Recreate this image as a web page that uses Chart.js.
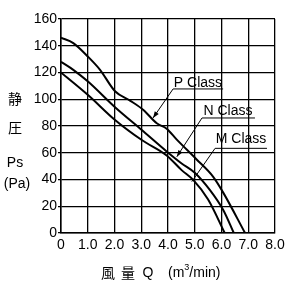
<!DOCTYPE html>
<html>
<head>
<meta charset="utf-8">
<script src="https://cdn.jsdelivr.net/npm/chart.js@4"></script>
<style>
  html, body { margin: 0; padding: 0; background: #fff; }
</style>
</head>
<body>
<canvas id="pq" width="290" height="290"></canvas>
<script>
// Fan curves: air flow Q (m3/min) vs static pressure Ps (Pa)
const classNames = ['P Class', 'N Class', 'M Class'];

const pFlow     = [0, 0.46, 1.0, 1.46, 2.02, 2.58, 3.08, 3.58, 3.95, 4.32, 5.07, 5.69, 6.07, 6.88];
const pPressure = [146, 142, 132, 122, 106, 99, 92, 82, 78, 70, 55, 42, 30, 0];

const nFlow     = [0, 0.46, 1.02, 2.02, 3.02, 3.95, 4.51, 5.0, 5.57, 6.07, 6.46];
const nPressure = [128, 122, 113, 94, 77, 61, 52, 45, 32, 17, 0];

const mFlow     = [0, 1.02, 2.02, 3.02, 3.95, 4.51, 4.95, 5.5, 6.12];
const mPressure = [120, 103, 84.5, 69.5, 58, 47, 39.5, 25, 0];

const xTicks = [0, 1, 2, 3, 4, 5, 6, 7, 8];
const yTicks = [0, 20, 40, 60, 80, 100, 120, 140, 160];

// Callout labels, in data units: text centre, underline span, leader end, arrowhead?
const callouts = [
  {text: classNames[0], tx: 5.12, ty: 112, uy: 107.7, u0: 4.19, u1: 6.06, ex: 3.44, ey: 86, arrow: true},
  {text: classNames[1], tx: 6.24, ty: 91, uy: 86, u0: 5.27, u1: 7.25, ex: 4.33, ey: 57, arrow: true},
  {text: classNames[2], tx: 6.73, ty: 70, uy: 63.3, u0: 5.76, u1: 7.7, ex: 4.89, ey: 38.4, arrow: false},
];

const fontFamily = '"Liberation Sans", Arial, sans-serif';
const cjkFamily = '"Noto Sans CJK JP", sans-serif';

const toPoints = (xs, ys) => xs.map((x, i) => ({x: x, y: ys[i]}));

// Titles and callouts drawn on top of the chart
const annotations = {
  id: 'annotations',
  afterDraw(chart) {
    const ctx = chart.ctx;
    const xs = chart.scales.x, ys = chart.scales.y;
    ctx.save();
    ctx.fillStyle = '#000';
    ctx.strokeStyle = '#000';
    ctx.textAlign = 'center';
    ctx.textBaseline = 'middle';

    // Y axis title
    ctx.font = '14px ' + cjkFamily;
    ctx.fillText('静', 15, 99);
    ctx.fillText('圧', 15, 128);
    ctx.font = '14px ' + fontFamily;
    ctx.fillText('Ps', 15, 163);
    ctx.fillText('(Pa)', 17, 184);

    // X axis title
    ctx.font = '14px ' + cjkFamily;
    ctx.fillText('風', 108, 273);
    ctx.fillText('量', 128, 273);
    ctx.font = '14px ' + fontFamily;
    ctx.fillText('Q', 148, 273);
    ctx.textAlign = 'left';
    ctx.fillText('(m', 168, 273);
    let w = ctx.measureText('(m').width;
    ctx.font = '9px ' + fontFamily;
    ctx.fillText('3', 168 + w, 268);
    let w3 = ctx.measureText('3').width;
    ctx.font = '14px ' + fontFamily;
    ctx.fillText('/min)', 168 + w + w3, 273);

    // Callouts
    ctx.textAlign = 'center';
    ctx.lineWidth = 1;
    callouts.forEach(c => {
      ctx.fillText(c.text, xs.getPixelForValue(c.tx), ys.getPixelForValue(c.ty));
      const ux0 = xs.getPixelForValue(c.u0), ux1 = xs.getPixelForValue(c.u1);
      const uy = ys.getPixelForValue(c.uy);
      const ex = xs.getPixelForValue(c.ex), ey = ys.getPixelForValue(c.ey);
      ctx.beginPath();
      ctx.moveTo(ux1, uy);
      ctx.lineTo(ux0, uy);
      ctx.lineTo(ex, ey);
      ctx.stroke();
      if (c.arrow) {
        const ang = Math.atan2(ey - uy, ex - ux0);
        const len = 7, half = 0.35;
        ctx.beginPath();
        ctx.moveTo(ex, ey);
        ctx.lineTo(ex - len * Math.cos(ang - half), ey - len * Math.sin(ang - half));
        ctx.lineTo(ex - len * Math.cos(ang + half), ey - len * Math.sin(ang + half));
        ctx.closePath();
        ctx.fill();
      }
    });
    ctx.restore();
  }
};

const curve = (label, xs, ys) => ({
  label: label,
  data: toPoints(xs, ys),
  borderColor: '#000',
  borderWidth: 2,
  pointRadius: 0,
  fill: false,
  cubicInterpolationMode: 'monotone'
});

new Chart(document.getElementById('pq'), {
  type: 'line',
  data: {
    datasets: [
      curve(classNames[0], pFlow, pPressure),
      curve(classNames[1], nFlow, nPressure),
      curve(classNames[2], mFlow, mPressure)
    ]
  },
  options: {
    responsive: false,
    animation: false,
    layout: {padding: {top: 19, right: 15, left: 0, bottom: 0}},
    plugins: {legend: {display: false}, tooltip: {enabled: false}},
    scales: {
      x: {
        type: 'linear',
        min: 0, max: 8,
        afterFit: s => { s.height = 57; },
        afterBuildTicks: s => { s.ticks = xTicks.map(v => ({value: v})); },
        border: {color: '#000', width: 1.5},
        grid: {color: '#000', lineWidth: 1.3, drawTicks: false},
        ticks: {
          color: '#000', padding: 4, maxRotation: 0,
          font: {family: fontFamily, size: 14},
          callback: v => v === 0 ? '0' : v.toFixed(1)
        }
      },
      y: {
        min: 0, max: 160,
        afterFit: s => { s.width = 61; },
        afterBuildTicks: s => { s.ticks = yTicks.map(v => ({value: v})); },
        border: {color: '#000', width: 1.5},
        grid: {color: '#000', lineWidth: 1.3, tickLength: 3},
        ticks: {
          color: '#000', padding: 1,
          font: {family: fontFamily, size: 14}
        }
      }
    }
  },
  plugins: [annotations]
});
</script>
</body>
</html>
